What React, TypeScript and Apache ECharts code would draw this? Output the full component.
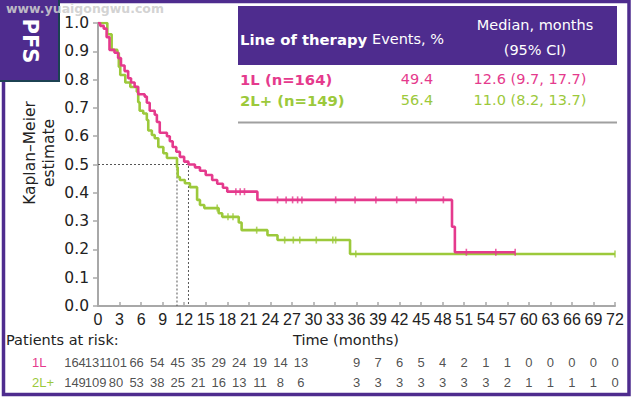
import React, { useEffect, useRef } from 'react';
import * as echarts from 'echarts';

// ---------- data ----------
const seriesNames = ['1L', '2L+'];
const legendLabels = ['1L (n=164)', '2L+ (n=149)'];
const eventsPct = ['49.4', '56.4'];
const medianCI = ['12.6 (9.7, 17.7)', '11.0 (8.2, 13.7)'];
const medians = [12.6, 11.0];

// Kaplan-Meier steps [time (months), survival from that time]
const km1L: number[][] = [
  [0, 1.0], [0.3, 0.99], [0.8, 0.98], [1.2, 0.95], [1.6, 0.905], [2.3, 0.895], [2.8, 0.876],
  [3.2, 0.85], [3.7, 0.83], [4.2, 0.805], [4.6, 0.79], [5.1, 0.775], [5.6, 0.748], [6.5, 0.74],
  [6.8, 0.718], [7.2, 0.69], [7.9, 0.676], [8.2, 0.65], [8.6, 0.612], [9.6, 0.6], [10.0, 0.582],
  [10.4, 0.562], [10.9, 0.545], [11.4, 0.527], [12.0, 0.51], [12.6, 0.5], [13.5, 0.49],
  [14.2, 0.478], [15.0, 0.463], [15.9, 0.445], [16.6, 0.432], [17.4, 0.418], [18.0, 0.404],
  [22.2, 0.375], [49.3, 0.28], [49.7, 0.19], [58.1, 0.19],
];
const km2L: number[][] = [
  [0, 1.0], [1.3, 0.96], [1.9, 0.905], [2.7, 0.894], [2.9, 0.845], [3.1, 0.816], [3.8, 0.79],
  [4.5, 0.774], [5.4, 0.757], [5.6, 0.72], [5.8, 0.69], [6.3, 0.68], [6.8, 0.657], [7.0, 0.62],
  [7.5, 0.604], [7.9, 0.593], [8.4, 0.562], [9.1, 0.54], [9.6, 0.523], [11.0, 0.49],
  [11.1, 0.456], [11.4, 0.445], [12.1, 0.434], [12.8, 0.42], [13.8, 0.375], [14.2, 0.357],
  [14.8, 0.346], [16.8, 0.328], [17.3, 0.315], [19.6, 0.295], [20.0, 0.268], [23.6, 0.25],
  [25.0, 0.233], [35.1, 0.184], [72, 0.184],
];
const censor1L = [19.2, 19.8, 20.4, 25.0, 26.2, 27.1, 27.8, 28.4, 33.1, 35.8, 38.7, 41.6, 44.3, 48.1, 51.3, 55.4, 58.1];
const censor2L = [16.6, 18.1, 18.8, 22.1, 26.0, 27.2, 28.1, 30.4, 32.7, 33.1, 35.9, 72];

const riskTimes = [0, 3, 6, 9, 12, 15, 18, 21, 24, 27, 30, 33, 36, 39, 42, 45, 48, 51, 54, 57, 60, 63, 66, 69, 72];
const risk1L = [164, 131, 101, 66, 54, 45, 35, 29, 24, 19, 14, 13, 9, 7, 6, 5, 4, 2, 1, 1, 0, 0, 0, 0, 0];
const risk2L = [149, 109, 80, 53, 38, 25, 21, 16, 13, 11, 8, 6, 3, 3, 3, 3, 3, 3, 3, 2, 1, 1, 1, 1, 0];

// ---------- styles ----------
const PINK = '#e53a8d';
const GREEN = '#9cc93b';
const PURPLE = '#4e2c8e';
const AXIS = '#a8a8a8';
const TXT = '#222';
const SANS = '"DejaVu Sans", Verdana, sans-serif';
const NUM = '"Liberation Sans", Arial, sans-serif';

function stepValue(km: number[][], t: number): number {
  let v = km[0][1];
  for (const [x, y] of km) {
    if (x <= t) v = y;
    else break;
  }
  return v;
}

// the reference's at-risk table sits a little left of the ticks for its first columns
function riskShift(i: number): number {
  return i < 12 ? -(23 + i) : 0;
}

export default function App() {
  const ref = useRef<HTMLDivElement>(null);

  useEffect(() => {
    if (!ref.current) return;
    const chart = echarts.init(ref.current, undefined, { renderer: 'svg' });

    const censorSeries = (times: number[], km: number[][], color: string) => ({
      type: 'scatter',
      xAxisIndex: 0,
      yAxisIndex: 0,
      symbol: 'rect',
      symbolSize: [1.6, 7],
      itemStyle: { color },
      data: times.map((t) => [t, stepValue(km, t)]),
      z: 4,
    });

    const riskSeries = (name: string, values: number[]) => ({
      type: 'scatter',
      xAxisIndex: 1,
      yAxisIndex: 1,
      symbolSize: 0,
      data: values.map((v, i) => ({
        value: [riskTimes[i], name, v],
        label: { offset: [riskShift(i), 0] },
      })),
      label: {
        show: true,
        position: 'inside',
        formatter: (p: any) => String(p.value[2]),
        fontFamily: NUM,
        fontSize: 13,
        color: TXT,
      },
    });

    const text = (
      t: string, x: number, y: number, font: string, fill: string,
      align = 'left', rotation = 0,
    ) => ({
      type: 'text',
      x, y, rotation,
      style: { text: t, font, fill, align, verticalAlign: 'middle' },
      z: 20,
    });

    const option: any = {
      animation: false,
      backgroundColor: '#ffffff',
      grid: [
        { left: 98, top: 23, width: 517, height: 283 },
        { left: 98, top: 352, width: 517, height: 40 },
      ],
      xAxis: [
        {
          type: 'value', gridIndex: 0, min: 0, max: 72, interval: 3,
          axisLine: { show: true, lineStyle: { color: AXIS, width: 2 } },
          axisTick: { show: true, inside: true, length: 4, lineStyle: { color: AXIS, width: 1.5 } },
          axisLabel: { fontFamily: NUM, fontSize: 16, color: TXT, margin: 5 },
          splitLine: { show: false },
        },
        { type: 'value', gridIndex: 1, min: 0, max: 72, show: false },
      ],
      yAxis: [
        {
          type: 'value', gridIndex: 0, min: 0, max: 1, interval: 0.1,
          axisLine: { show: true, lineStyle: { color: AXIS, width: 2 } },
          axisTick: { show: true, inside: false, length: 5, lineStyle: { color: AXIS, width: 1.5 } },
          axisLabel: {
            fontFamily: SANS, fontSize: 15.5, color: TXT, margin: 9,
            formatter: (v: number) => v.toFixed(1),
          },
          splitLine: { show: false },
        },
        { type: 'category', gridIndex: 1, data: seriesNames, inverse: true, show: false },
      ],
      series: [
        {
          type: 'line', xAxisIndex: 0, yAxisIndex: 0, symbol: 'none',
          data: [[0, 0.5], [medians[0], 0.5], [medians[0], 0]],
          lineStyle: { color: '#555', width: 1, type: [2, 2] }, z: 1,
        },
        {
          type: 'line', xAxisIndex: 0, yAxisIndex: 0, symbol: 'none',
          data: [[medians[1], 0.5], [medians[1], 0]],
          lineStyle: { color: '#555', width: 1, type: [2, 2] }, z: 1,
        },
        {
          name: seriesNames[1], type: 'line', step: 'end', symbol: 'none',
          xAxisIndex: 0, yAxisIndex: 0, data: km2L,
          lineStyle: { color: GREEN, width: 2.6 }, z: 2,
        },
        censorSeries(censor2L, km2L, GREEN),
        {
          name: seriesNames[0], type: 'line', step: 'end', symbol: 'none',
          xAxisIndex: 0, yAxisIndex: 0, data: km1L,
          lineStyle: { color: PINK, width: 2.6 }, z: 3,
        },
        censorSeries(censor1L, km1L, PINK),
        riskSeries(seriesNames[0], risk1L),
        riskSeries(seriesNames[1], risk2L),
      ],
      graphic: [
        // outer frame
        {
          type: 'rect', shape: { x: 3.5, y: 1.5, width: 625.5, height: 393 },
          style: { fill: 'none', stroke: PURPLE, lineWidth: 3.5 }, z: 10,
        },
        // PFS tab
        { type: 'rect', shape: { x: 0, y: 0, width: 60, height: 82 }, style: { fill: '#1c4252' }, z: 11 },
        { type: 'rect', shape: { x: 0, y: 0, width: 58, height: 80 }, style: { fill: PURPLE }, z: 12 },
        text('PFS', 30, 41, `bold 21px ${SANS}`, '#ffffff', 'center', -Math.PI / 2),
        // watermark
        {
          type: 'text', x: 6, y: 8,
          style: {
            text: 'www.yuaigongwu.com', font: `bold 12.5px ${SANS}`,
            fill: 'rgba(205,205,205,0.9)', align: 'left', verticalAlign: 'middle',
          },
          z: 30,
        },
        // legend table
        { type: 'rect', shape: { x: 238, y: 6, width: 379, height: 59 }, style: { fill: PURPLE }, z: 11 },
        text('Line of therapy', 240, 39, `bold 14.8px ${SANS}`, '#ffffff'),
        text('Events, %', 372, 39, `14.5px ${SANS}`, '#ffffff'),
        text('Median, months', 535, 25, `14.5px ${SANS}`, '#ffffff', 'center'),
        text('(95% CI)', 535, 50, `14.5px ${SANS}`, '#ffffff', 'center'),
        text(legendLabels[0], 240, 79, `bold 14.8px ${SANS}`, PINK),
        text(eventsPct[0], 417, 79, `14.5px ${SANS}`, PINK, 'center'),
        text(medianCI[0], 530, 79, `14.5px ${SANS}`, PINK, 'center'),
        text(legendLabels[1], 240, 100, `bold 14.8px ${SANS}`, GREEN),
        text(eventsPct[1], 417, 100, `14.5px ${SANS}`, GREEN, 'center'),
        text(medianCI[1], 530, 100, `14.5px ${SANS}`, GREEN, 'center'),
        {
          type: 'line', shape: { x1: 238, y1: 122.5, x2: 617, y2: 122.5 },
          style: { stroke: '#a0a0a0', lineWidth: 2 }, z: 11,
        },
        // y-axis title
        {
          type: 'text', x: 39, y: 153, rotation: Math.PI / 2,
          style: {
            text: 'Kaplan–Meier\nestimate', font: `15.5px ${SANS}`, fill: TXT,
            align: 'center', verticalAlign: 'middle', lineHeight: 19,
          },
          z: 20,
        },
        // bottom labels
        text('Patients at risk:', 6, 340, `14.5px ${SANS}`, TXT),
        text('Time (months)', 346, 340, `14.5px ${SANS}`, TXT, 'center'),
        text(seriesNames[0], 32, 362, `13px ${NUM}`, PINK),
        text(seriesNames[1], 32, 382, `13px ${NUM}`, GREEN),
      ],
    };

    chart.setOption(option);
    return () => chart.dispose();
  }, []);

  return (
    <div
      ref={ref}
      style={{ position: 'fixed', left: 0, top: 0, width: 631, height: 397, background: '#fff' }}
    />
  );
}
